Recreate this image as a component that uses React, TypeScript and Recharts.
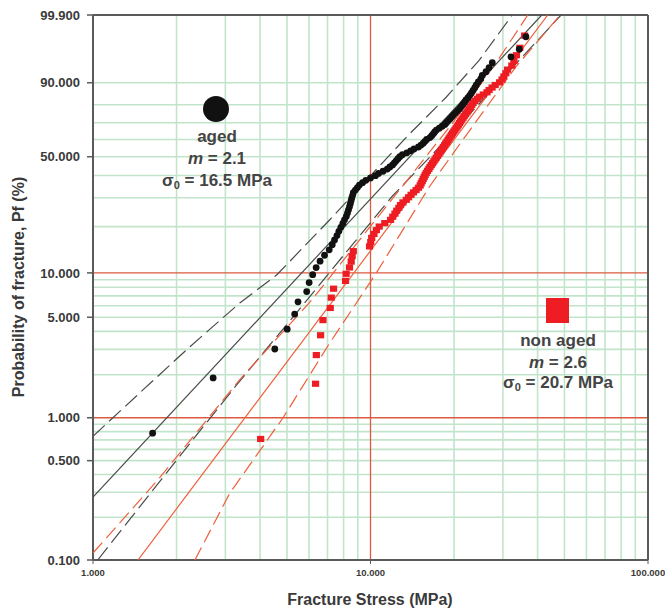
import { ReferenceLine, Scatter, ScatterChart, XAxis, YAxis } from "recharts";

const FONT = '"Liberation Sans", Arial, sans-serif';
const TEXT = "#3a3a3a";
const GREEN = "#c2e4cb";
const MAJOR = "#dc5a3e";
const FRAME = "#5a5a5a";
const AGED_COLOR = "#111111";
const NON_AGED_COLOR = "#ee1d23";
const AGED_LINE = "#4a4a4a";
const NON_AGED_LINE = "#ef5f3c";

// probability range of the Weibull paper (%)
const PF_MIN = 0.1;
const PF_MAX = 99.9;

const X_TICKS = [1, 10, 100];
const Y_TICKS = [0.1, 0.5, 1, 5, 10, 50, 90, 99.9];
const X_GRID = [2, 3, 4, 5, 6, 7, 8, 9, 20, 30, 40, 50, 60, 70, 80, 90];
const Y_GRID = [
  0.2, 0.3, 0.4, 0.5, 0.6, 0.7, 0.8, 0.9, 2, 3, 4, 5, 6, 7, 8, 9, 20, 30, 40,
  50, 60, 70, 80, 90,
];
const X_MAJOR = [10];
const Y_MAJOR = [1, 10];

// aged samples: fracture stress (MPa) and probability of fracture (%)
const AGED_STRESS = [
  1.64, 2.71, 4.52, 5.01, 5.33, 5.48, 5.89, 6.01, 6.19, 6.37, 6.58, 6.83, 7.1,
  7.28, 7.42, 7.57, 7.69, 7.82, 7.95, 8.06, 8.18, 8.26, 8.33, 8.4, 8.46, 8.51,
  8.56, 8.62, 8.67, 8.82, 8.97, 9.12, 9.36, 9.62, 10.0, 10.42, 10.69, 11.1,
  11.49, 11.74, 12.01, 12.19, 12.37, 12.56, 12.75, 13.03, 13.52, 13.95, 14.35,
  14.89, 15.21, 15.49, 15.72, 15.94, 16.38, 16.62, 16.84, 17.03, 17.28, 17.7,
  18.14, 18.54, 18.8, 19.09, 19.36, 19.65, 19.94, 20.27, 20.61, 20.96, 21.23,
  21.52, 21.82, 22.09, 22.46, 22.79, 23.11, 23.42, 23.75, 24.06, 24.46, 24.97,
  25.28, 26.07, 26.75, 27.47, 32.07, 34.36, 36.31,
];
const AGED_PF = [
  0.78, 1.9, 3.02, 4.14, 5.26, 6.38, 7.49, 8.61, 9.73, 10.85, 11.97, 13.09,
  14.21, 15.32, 16.44, 17.56, 18.68, 19.8, 20.92, 22.04, 23.15, 24.27, 25.39,
  26.51, 27.63, 28.75, 29.87, 30.98, 32.1, 33.22, 34.34, 35.46, 36.58, 37.7,
  38.81, 39.93, 41.05, 42.17, 43.29, 44.41, 45.53, 46.64, 47.76, 48.88, 50.0,
  51.12, 52.24, 53.36, 54.47, 55.59, 56.71, 57.83, 58.95, 60.07, 61.19, 62.3,
  63.42, 64.54, 65.66, 66.78, 67.9, 69.02, 70.13, 71.25, 72.37, 73.49, 74.61,
  75.73, 76.85, 77.96, 79.08, 80.2, 81.32, 82.44, 83.56, 84.68, 85.79, 86.91,
  88.03, 89.15, 90.27, 91.39, 92.51, 93.62, 94.74, 95.86, 96.98, 98.1, 99.22,
];

// non aged samples
const NON_AGED_STRESS = [
  4.02, 6.34, 6.38, 6.61, 6.74, 7.16, 7.22, 7.36, 8.13, 8.17, 8.4, 8.52, 8.59,
  8.67, 9.92, 10.02, 10.1, 10.29, 10.5, 10.75, 11.26, 11.81, 12.03, 12.25,
  12.43, 12.65, 12.83, 13.09, 13.46, 13.72, 14.0, 14.29, 14.6, 14.89, 15.1,
  15.22, 15.36, 15.49, 15.62, 15.74, 15.88, 16.05, 16.23, 16.38, 16.56, 16.74,
  16.91, 17.08, 17.25, 17.44, 17.61, 17.78, 17.96, 18.13, 18.31, 18.49, 18.66,
  18.85, 19.02, 19.19, 19.37, 19.56, 19.74, 19.95, 20.15, 20.34, 20.54, 20.73,
  20.94, 21.13, 21.34, 21.56, 21.75, 22.0, 22.24, 22.46, 22.7, 22.93, 23.18,
  23.42, 23.8, 24.26, 24.7, 25.5, 26.29, 26.75, 27.43, 28.14, 29.18, 29.79,
  30.24, 30.74, 31.18, 32.31, 32.88, 33.56, 34.52, 35.93,
];
const NON_AGED_PF = [
  0.71, 1.73, 2.74, 3.76, 4.78, 5.79, 6.81, 7.83, 8.84, 9.86, 10.87, 11.89,
  12.91, 13.92, 14.94, 15.96, 16.97, 17.99, 19.0, 20.02, 21.04, 22.05, 23.07,
  24.09, 25.1, 26.12, 27.13, 28.15, 29.17, 30.18, 31.2, 32.22, 33.23, 34.25,
  35.26, 36.28, 37.3, 38.31, 39.33, 40.35, 41.36, 42.38, 43.39, 44.41, 45.43,
  46.44, 47.46, 48.48, 49.49, 50.51, 51.52, 52.54, 53.56, 54.57, 55.59, 56.61,
  57.62, 58.64, 59.65, 60.67, 61.69, 62.7, 63.72, 64.74, 65.75, 66.77, 67.79,
  68.8, 69.82, 70.83, 71.85, 72.87, 73.88, 74.9, 75.92, 76.93, 77.95, 78.96,
  79.98, 81.0, 82.01, 83.03, 84.05, 85.06, 86.08, 87.09, 88.11, 89.13, 90.14,
  91.16, 92.18, 93.19, 94.21, 95.22, 96.24, 97.26, 98.27, 99.29,
];

// confidence bounds
const AGED_UPPER_STRESS = [1.0, 1.51, 2.23, 3.38, 4.59, 7.12, 9.67, 13.48, 18.77, 24.66, 32.42];
const AGED_UPPER_PF = [0.742, 1.56, 3.12, 6.26, 9.68, 22.0, 37.8, 61.5, 83.9, 96.4, 99.9];
const AGED_LOWER_STRESS = [1.04, 1.99, 3.27, 5.33, 8.06, 12.0, 18.16, 29.11, 48.6];
const AGED_LOWER_PF = [0.1, 0.497, 1.67, 5.18, 13.3, 30.7, 57.4, 90.3, 99.9];
const NON_AGED_UPPER_STRESS = [1.0, 1.71, 2.61, 3.38, 6.14, 10.42, 15.51, 20.15, 28.8, 36.87];
const NON_AGED_UPPER_PF = [0.112, 0.365, 1.0, 1.85, 6.56, 22.0, 48.2, 71.6, 96.4, 99.9];
const NON_AGED_LOWER_STRESS = [2.33, 3.11, 4.84, 7.12, 10.48, 16.3, 21.48, 33.43, 48.27];
const NON_AGED_LOWER_PF = [0.1, 0.295, 1.0, 3.31, 9.95, 34.7, 59.7, 94.95, 99.9];

// Weibull parameters
const AGED_M = 2.1;
const AGED_S0 = 16.5;
const NON_AGED_M = 2.6;
const NON_AGED_S0 = 20.7;

// Weibull probability scale: ln(-ln(1 - F))
const weib = (pf: number) => Math.log(-Math.log(1 - pf / 100));
const unweib = (w: number) => (1 - Math.exp(-Math.exp(w))) * 100;

const toPoints = (stress: number[], pf: number[]) =>
  stress.map((x, i) => ({ x, y: weib(pf[i]) }));

// straight fit line clipped to the paper
const fitLine = (m: number, s0: number) => {
  const lo = Math.max(1, s0 * Math.pow(-Math.log(1 - PF_MIN / 100), 1 / m));
  const hi = Math.min(100, s0 * Math.pow(-Math.log(1 - PF_MAX / 100), 1 / m));
  return [lo, hi].map((x) => ({ x, y: m * Math.log(x / s0) }));
};

const aged = toPoints(AGED_STRESS, AGED_PF);
const nonAged = toPoints(NON_AGED_STRESS, NON_AGED_PF);

const NoMark = () => <g />;
const BlackDot = (p: any) => <circle cx={p.cx} cy={p.cy} r={3.4} fill={AGED_COLOR} />;
const RedSquare = (p: any) => (
  <rect x={p.cx - 3.6} y={p.cy - 3.1} width={7.2} height={6.2} fill={NON_AGED_COLOR} />
);

const lineSeries = (
  key: string,
  data: { x: number; y: number }[],
  stroke: string,
  dash?: string
) => (
  <Scatter
    key={key}
    data={data}
    line={{ stroke, strokeWidth: 1.2, strokeDasharray: dash }}
    shape={NoMark}
    isAnimationActive={false}
  />
);

const tickStyle = { fill: TEXT, fontFamily: FONT, fontWeight: 700 };

export default function App() {
  return (
    <div style={{ position: "absolute", left: 0, top: 0, width: 665, height: 611, background: "#fff" }}>
      <ScatterChart width={665} height={611} margin={{ top: 15, right: 17, bottom: 21, left: 0 }}>
        <XAxis
          type="number"
          dataKey="x"
          scale="log"
          domain={[1, 100]}
          ticks={X_TICKS}
          interval={0}
          allowDataOverflow
          height={30}
          tickFormatter={(v: number) => v.toFixed(3)}
          tick={{ ...tickStyle, fontSize: 9.5 }}
          tickSize={4}
          tickMargin={5}
          axisLine={{ stroke: FRAME, strokeWidth: 2 }}
          tickLine={{ stroke: FRAME }}
        />
        <YAxis
          type="number"
          dataKey="y"
          domain={[weib(PF_MIN), weib(PF_MAX)]}
          ticks={Y_TICKS.map(weib)}
          interval={0}
          allowDataOverflow
          width={93}
          tickFormatter={(w: number) => unweib(w).toFixed(3)}
          tick={{ ...tickStyle, fontSize: 13 }}
          tickSize={6}
          tickMargin={7}
          axisLine={{ stroke: FRAME, strokeWidth: 2 }}
          tickLine={{ stroke: FRAME, strokeWidth: 1.5 }}
        />

        {X_GRID.map((v) => (
          <ReferenceLine key={`gx${v}`} x={v} stroke={GREEN} strokeWidth={1.6} />
        ))}
        {Y_GRID.map((p) => (
          <ReferenceLine key={`gy${p}`} y={weib(p)} stroke={GREEN} strokeWidth={1.6} />
        ))}
        {X_MAJOR.map((v) => (
          <ReferenceLine key={`mx${v}`} x={v} stroke={MAJOR} strokeWidth={1.3} />
        ))}
        {Y_MAJOR.map((p) => (
          <ReferenceLine key={`my${p}`} y={weib(p)} stroke={MAJOR} strokeWidth={1.3} />
        ))}
        <ReferenceLine x={100} stroke={FRAME} strokeWidth={2} ifOverflow="visible" />
        <ReferenceLine y={weib(PF_MAX)} stroke={FRAME} strokeWidth={2} ifOverflow="visible" />

        {lineSeries("au", toPoints(AGED_UPPER_STRESS, AGED_UPPER_PF), AGED_LINE, "16 6")}
        {lineSeries("al", toPoints(AGED_LOWER_STRESS, AGED_LOWER_PF), AGED_LINE, "16 6")}
        {lineSeries("nu", toPoints(NON_AGED_UPPER_STRESS, NON_AGED_UPPER_PF), NON_AGED_LINE, "14 6")}
        {lineSeries("nl", toPoints(NON_AGED_LOWER_STRESS, NON_AGED_LOWER_PF), NON_AGED_LINE, "14 6")}
        {lineSeries("af", fitLine(AGED_M, AGED_S0), AGED_LINE)}
        {lineSeries("nf", fitLine(NON_AGED_M, NON_AGED_S0), NON_AGED_LINE)}

        <Scatter data={nonAged} shape={RedSquare} isAnimationActive={false} />
        <Scatter data={aged} shape={BlackDot} isAnimationActive={false} />
      </ScatterChart>

      <svg
        width={665}
        height={611}
        style={{ position: "absolute", left: 0, top: 0, pointerEvents: "none" }}
        fontFamily={FONT}
        fontWeight={700}
        fill={TEXT}
      >
        <text transform="translate(18,287) rotate(-90)" textAnchor="middle" dominantBaseline="central" fontSize={16}>
          Probability of fracture, Pf (%)
        </text>
        <text x={370} y={599} textAnchor="middle" dominantBaseline="central" fontSize={16}>
          Fracture Stress (MPa)
        </text>

        <circle cx={216} cy={109} r={13} fill={AGED_COLOR} />
        <g textAnchor="middle" fontSize={17} fill="#444">
          <text x={217} y={136} dominantBaseline="central">aged</text>
          <text x={217} y={158} dominantBaseline="central">
            <tspan fontStyle="italic">m</tspan> = {AGED_M.toFixed(1)}
          </text>
          <text x={217} y={180} dominantBaseline="central">
            σ<tspan fontSize={11} dy={5}>0</tspan>
            <tspan dy={-5}> = {AGED_S0.toFixed(1)} MPa</tspan>
          </text>
        </g>

        <rect x={546} y={298} width={23} height={25} fill={NON_AGED_COLOR} />
        <g textAnchor="middle" fontSize={17} fill="#444">
          <text x={558} y={340} dominantBaseline="central">non aged</text>
          <text x={558} y={362} dominantBaseline="central">
            <tspan fontStyle="italic">m</tspan> = {NON_AGED_M.toFixed(1)}
          </text>
          <text x={558} y={382} dominantBaseline="central">
            σ<tspan fontSize={11} dy={5}>0</tspan>
            <tspan dy={-5}> = {NON_AGED_S0.toFixed(1)} MPa</tspan>
          </text>
        </g>
      </svg>
    </div>
  );
}
